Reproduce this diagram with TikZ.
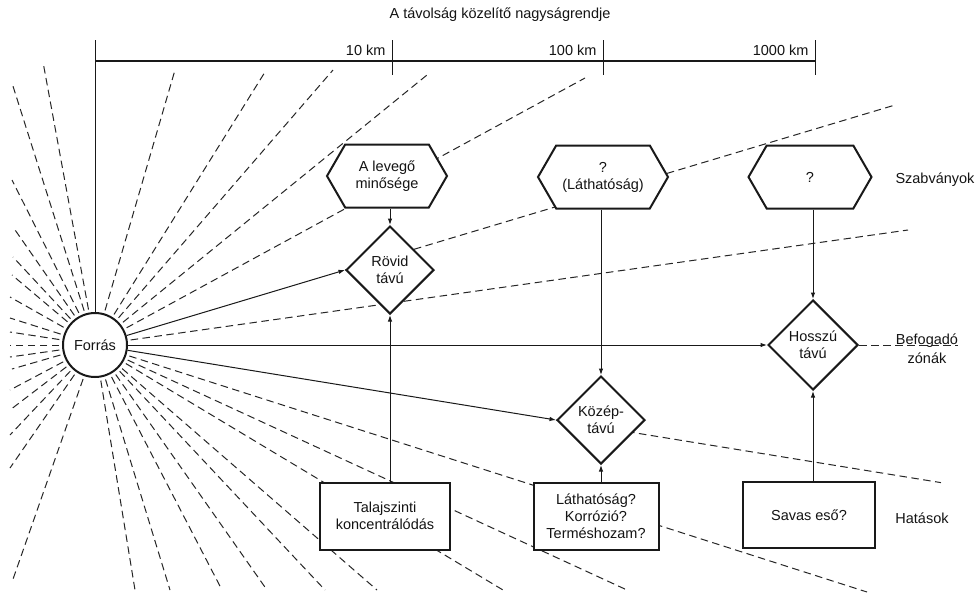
\documentclass[tikz,border=0pt]{standalone}
\usepackage{fontspec}
\setmainfont{Liberation Sans}
\usetikzlibrary{shapes.geometric,shapes.symbols,arrows.meta,calc}
\pgfdeclarelayer{paper}
\pgfdeclarelayer{rays}
\pgfsetlayers{paper,rays,main}
\begin{document}
\begin{tikzpicture}[x=1pt,y=-1pt,
  every node/.style={font=\fontsize{14.5}{17}\selectfont, text=black!92},
  ray/.style={line width=1pt, dash pattern=on 7.5pt off 4.5pt, black!85},
  link/.style={line width=1pt, black!90},
  arr/.style={link, -{Latex[length=6.5pt,width=4.5pt]}},
  frame/.style={draw=black!90, line width=2pt, fill=white, align=center, inner sep=0pt},
  hexa/.style={frame, signal, signal to=east and west, signal pointer angle=120, minimum height=63pt},
  rhomb/.style={frame, diamond, minimum width=88pt, minimum height=88pt},
  box/.style={frame, rectangle, minimum height=67pt}]

\begin{pgfonlayer}{paper}
  \fill[white] (0,0) rectangle (980,595);
\end{pgfonlayer}
\useasboundingbox (0,0) rectangle (980,595);

% centre of the source
\coordinate (src) at (95,345);

% dashed rays spreading out from the source
\begin{pgfonlayer}{rays}
  \foreach \x/\y in {43/62, 12/83, 175/70, 265/72, 333/70, 427/75, 585/78,
                     12/180, 13/227, 13/257, 12/275, 10/297, 10/318, 10/332,
                     10/345, 10/357, 12/369, 10/390, 10/410, 10/435, 10/468,
                     12/582,
                     135/590, 170/590, 222/590, 267/590, 325/590, 377/590,
                     503/590, 627/590, 867/592,
                     908/230}
    \draw[ray] (src) -- (\x,\y);
\end{pgfonlayer}

% source
\node[frame, circle, minimum size=64pt] (forras) at (src) {Forrás};

% standards
\node[hexa, minimum width=120pt] (h1) at (387,176) {A levegő\\minősége};
\node[hexa, minimum width=130pt] (h2) at (603,177) {?\\(Láthatóság)};
\node[hexa, minimum width=123pt] (h3) at (810,177) {?};

% transport ranges
\node[rhomb] (rovid) at (390,270) {Rövid\\távú};
\node[rhomb] (kozep) at (601,420) {Közép-\\távú};
\node[rhomb, minimum width=90pt, minimum height=90pt] (hosszu) at (813,345) {Hosszú\\távú};

% effects
\node[box, minimum width=130pt] (b1) at (385,516) {Talajszinti\\koncentrálódás};
\node[box, minimum width=125pt] (b2) at (596,516) {Láthatóság?\\Korrózió?\\Terméshozam?};
\node[box, minimum width=132pt, minimum height=66pt] (b3) at (809,515) {Savas eső?};

% row labels
\node (szab) at (935,180) {Szabványok};
\node[align=center, font=\fontsize{14.5}{19}\selectfont] (befog) at (927,349) {Befogadó\\zónák};
\node (hat) at (922,518) {Hatások};

% distance scale
\node (title) at (500,15) {A távolság közelítő nagyságrendje};
\coordinate (axtop) at (95,40);
\coordinate (ax0) at (95,61);
\coordinate (ax3) at (815,61);
\coordinate (t1a) at (392,40); \coordinate (t1b) at (392,75);
\coordinate (t2a) at (603,40); \coordinate (t2b) at (603,75);
\coordinate (t3a) at (815,40); \coordinate (t3b) at (815,75);
\draw[link] (forras.north) -- (axtop);
\draw[link, line width=1.5pt] (ax0) -- (ax3);
\draw[link] (t1a) -- (t1b);
\draw[link] (t2a) -- (t2b);
\draw[link] (t3a) -- (t3b);
\node[anchor=east] (km1) at (389,50) {10 km};
\node[anchor=east] (km2) at (600,50) {100 km};
\node[anchor=east] (km3) at (812,50) {1000 km};

% rays continuing beyond the ranges
\begin{pgfonlayer}{rays}
  \draw[ray] (rovid.west) -- ($(forras.center)!3.19!(rovid.west)$);
  \draw[ray] (kozep.west) -- ($(forras.center)!1.835!(kozep.west)$);
\end{pgfonlayer}
\coordinate (befend) at (958,345);
\draw[ray] (hosszu.east) -- (befend);

% connectors
\draw[arr] (forras) -- (rovid.west);
\draw[arr] (forras) -- (kozep.west);
\draw[arr] (forras) -- (hosszu.west);
\draw[arr] (rovid.north |- h1.south) -- (rovid.north);
\draw[arr] (kozep.north |- h2.south) -- (kozep.north);
\draw[arr] (hosszu.north |- h3.south) -- (hosszu.north);
\draw[arr] (rovid.south |- b1.north) -- (rovid.south);
\draw[arr] (kozep.south |- b2.north) -- (kozep.south);
\draw[arr] (hosszu.south |- b3.north) -- (hosszu.south);
\end{tikzpicture}
\end{document}
